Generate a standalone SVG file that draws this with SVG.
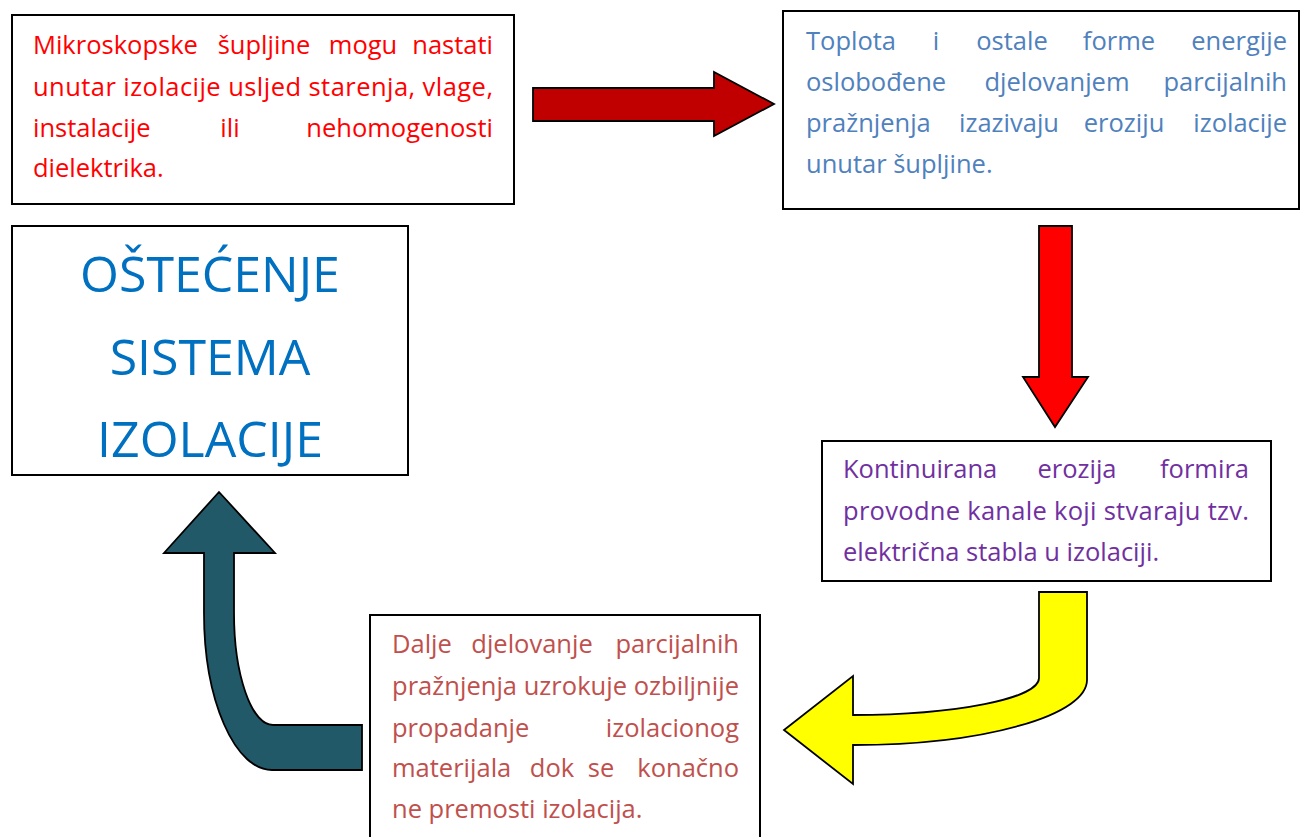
<svg xmlns="http://www.w3.org/2000/svg" width="1300" height="837" viewBox="0 0 1300 837">
<style>
.box{fill:#ffffff;stroke:#000000;stroke-width:2}
.t{font-family:"Open Sans","Liberation Sans",sans-serif;font-size:25.5px}
.e{text-anchor:end}
.m{text-anchor:middle}
.arr{stroke:#000000;stroke-width:1.8;stroke-linejoin:miter}
.title{font-family:"Open Sans","Liberation Sans",sans-serif;font-size:50px;fill:#0070C0;text-anchor:middle}
</style>
<rect width="1300" height="837" fill="#ffffff"/>
<g id="connectors">
<path class="arr" fill="#C00000" d="M533,88 L714,88 L714,72 L774,104 L714,136 L714,121 L533,121 Z"/>
<path class="arr" fill="#FF0000" d="M1039,226 L1072,226 L1072,377 L1088,377 L1055,427 L1023,377 L1039,377 Z"/>
<path class="arr" fill="#FFFF00" d="M1039,592 L1087,592 L1087,680 A234 65 0 0 1 853 745 L853,784 L784,730 L853,676 L853,715 A186 37 0 0 0 1039 678 Z"/>
<path class="arr" fill="#215968" d="M219,492 L275,553 L234,553 L234,613 A39 112 0 0 0 273 725 L362,725 L362,770 L272,770 A68 157 0 0 1 204 613 L204,553 L164,553 Z"/>
</g>
<g id="node1">
<rect class="box" x="12" y="15" width="502" height="189"/>
<g class="t" fill="#FF0000">
<text x="33" y="54">Mikroskopske</text><text class="m" x="264" y="54">šupljine</text><text class="m" x="363" y="54">mogu</text><text class="e" x="493" y="54">nastati</text>
<text x="33" y="96" textLength="460" lengthAdjust="spacing">unutar izolacije usljed starenja, vlage,</text>
<text x="33" y="137">instalacije</text><text class="m" x="230" y="137">ili</text><text class="e" x="493" y="137">nehomogenosti</text>
<text x="33" y="177">dielektrika.</text>
</g>
</g>
<g id="node2">
<rect class="box" x="783" y="11" width="516" height="198"/>
<g class="t" fill="#4F81BD">
<text x="806" y="50">Toplota</text><text class="m" x="936" y="50">i</text><text class="m" x="1012" y="50">ostale</text><text class="m" x="1119" y="50">forme</text><text class="e" x="1287" y="50">energije</text>
<text x="806" y="91">oslobođene</text><text class="m" x="1057" y="91">djelovanjem</text><text class="e" x="1287" y="91">parcijalnih</text>
<text x="806" y="132">pražnjenja</text><text class="m" x="1009" y="132">izazivaju</text><text class="m" x="1124" y="132">eroziju</text><text class="e" x="1287" y="132">izolacije</text>
<text x="806" y="173">unutar šupljine.</text>
</g>
</g>
<g id="node3">
<rect class="box" x="12" y="226" width="396" height="249"/>
<text class="title" x="210" y="292">OŠTEĆENJE</text>
<text class="title" x="210" y="375">SISTEMA</text>
<text class="title" x="210" y="457">IZOLACIJE</text>
</g>
<g id="node4">
<rect class="box" x="822" y="441" width="449" height="140"/>
<g class="t" fill="#7030A0">
<text x="843" y="478">Kontinuirana</text><text class="m" x="1077" y="478">erozija</text><text class="e" x="1249" y="478">formira</text>
<text x="843" y="520" textLength="406" lengthAdjust="spacing">provodne kanale koji stvaraju tzv.</text>
<text x="843" y="561">električna stabla u izolaciji.</text>
</g>
</g>
<g id="node5">
<rect class="box" x="370" y="615" width="390" height="240"/>
<g class="t" fill="#C0504D">
<text x="392" y="653">Dalje</text><text class="m" x="532" y="653">djelovanje</text><text class="e" x="739" y="653">parcijalnih</text>
<text x="392" y="695" textLength="347" lengthAdjust="spacing">pražnjenja uzrokuje ozbiljnije</text>
<text x="392" y="737">propadanje</text><text class="e" x="739" y="737">izolacionog</text>
<text x="392" y="777">materijala</text><text class="m" x="552" y="777">dok</text><text class="m" x="601" y="777">se</text><text class="e" x="739" y="777">konačno</text>
<text x="392" y="818">ne premosti izolacija.</text>
</g>
</g>
</svg>
